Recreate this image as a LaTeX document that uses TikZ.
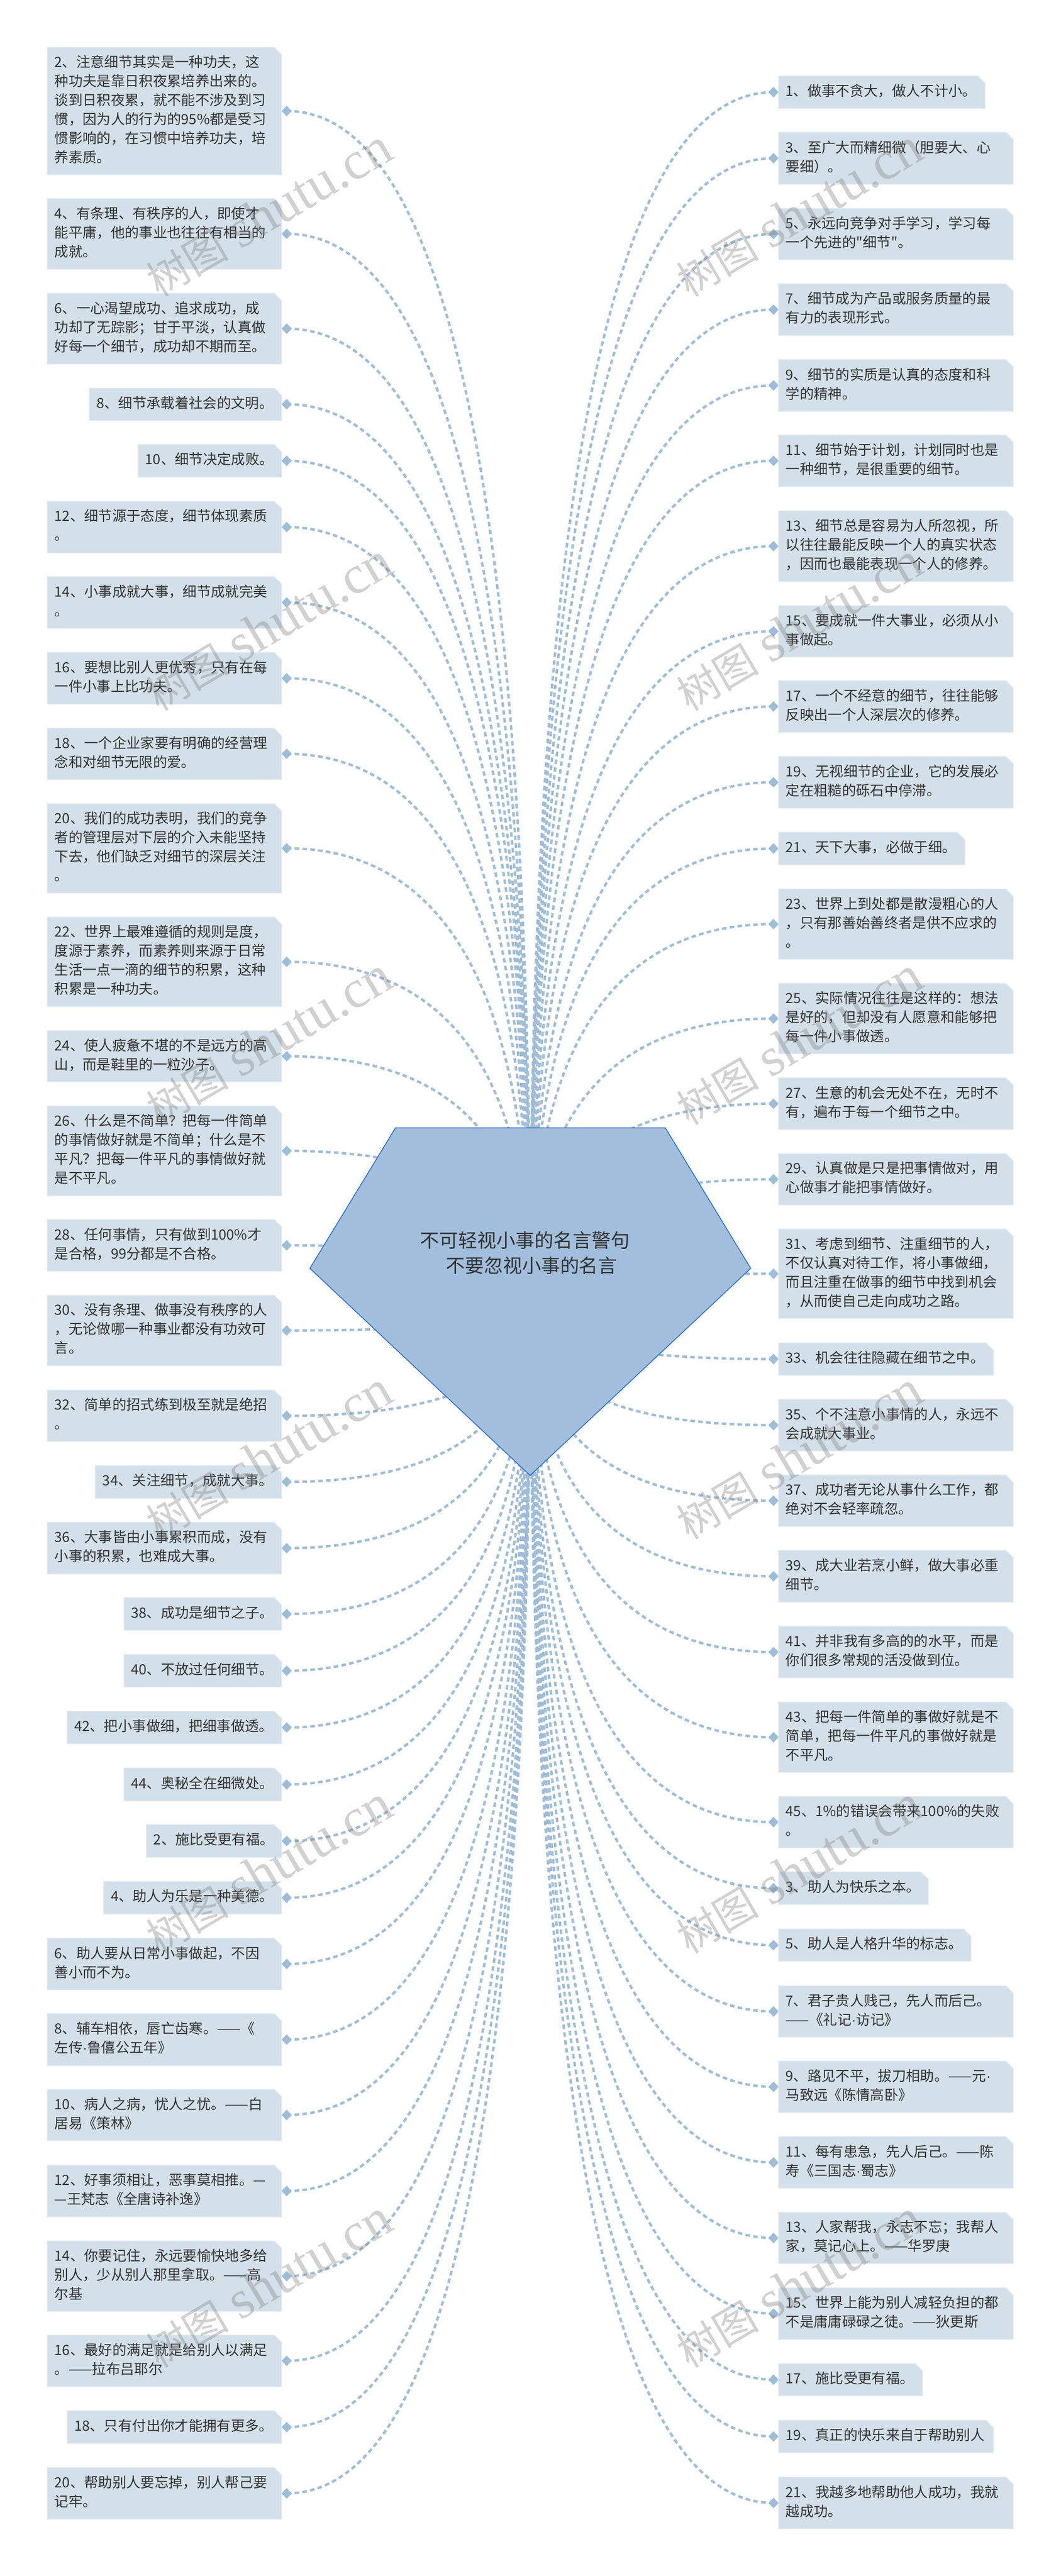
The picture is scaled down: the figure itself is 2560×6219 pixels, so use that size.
\documentclass[tikz,border=0pt]{standalone}
\usepackage{fontspec}
\usetikzlibrary{calc,shapes.geometric}
\newfontfamily\cjkmain{Noto Sans CJK SC}
\newfontfamily\wmlatin{Liberation Serif}
\newfontfamily\dotfont{Liberation Sans}
\newcommand\middot{{\dotfont ·}}
\definecolor{boxfill}{HTML}{D3E0E9}
\definecolor{boxedge}{HTML}{E6EDF2}
\definecolor{linkcol}{HTML}{9FBDD9}
\definecolor{diacol}{HTML}{9DBDDA}
\definecolor{hubfill}{HTML}{A1BFDC}
\definecolor{hubedge}{HTML}{2B6FD1}
\definecolor{inkcol}{HTML}{333333}
\setbox\strutbox=\hbox{\vrule height36pt depth10pt width0pt}
\tikzset{
  boxshape/.style={fill=boxfill,draw=boxedge,line width=2pt,line join=miter},
  boxtext/.style={inner sep=0pt,outer sep=0pt,anchor=west,align=left,text=inkcol,font=\cjkmain\fontsize{34pt}{46pt}\selectfont},
  dia/.style={diamond,fill=diacol,draw=none,inner sep=0pt,minimum width=24pt,minimum height=25pt,aspect=1},
  linkline/.style={draw=linkcol,line width=6pt,dash pattern=on 11pt off 8pt},
  hubshape/.style={fill=hubfill,draw=hubedge,line width=2pt,line join=miter},
  hubtext/.style={inner sep=0pt,outer sep=0pt,anchor=west,align=left,text=inkcol,font=\cjkmain\fontsize{46pt}{61pt}\selectfont},
  wmtext/.style={inner sep=0pt,text=gray,text opacity=.36,rotate=30.5},
}
% name, left x, right x, top, bottom, text
\newcommand\leftitem[6]{%
  \node[dia] (#1d) at (692,{(#4+#5)/2}) {};
  \draw[linkline] (#1d.center) .. controls ($(#1d.center)!2/3!(#1d.center-|hub)$) and ($(hub)!2/3!(#1d.center-|hub)$) .. (hub);
  \draw[boxshape] (#2,#4) -- ({#3-18},#4) -- (#3,{#4+18}) -- (#3,#5) -- (#2,#5) -- cycle;
  \node[dia] at (#1d) {};
  \node[boxtext] (#1) at ({#2+17.5},{(#4+#5)/2}) {\strut #6\strut};
}
\newcommand\rightitem[6]{%
  \node[dia] (#1d) at (1867,{(#4+#5)/2}) {};
  \draw[linkline] (#1d.center) .. controls ($(#1d.center)!2/3!(#1d.center-|hub)$) and ($(hub)!2/3!(#1d.center-|hub)$) .. (hub);
  \draw[boxshape] (#2,#4) -- ({#3-18},#4) -- (#3,{#4+18}) -- (#3,#5) -- (#2,#5) -- cycle;
  \node[dia] at (#1d) {};
  \node[boxtext] (#1) at ({#2+17.5},{(#4+#5)/2}) {\strut #6\strut};
}
\begin{document}
\begin{tikzpicture}[x=1pt,y=-1pt]
\useasboundingbox (0,0) rectangle (2560,6219);
\fill[white] (0,0) rectangle (2560,6219);
\coordinate (hub) at (1280,3142.5);
% left column
\leftitem{la}{114}{680}{114}{422}{2、注意细节其实是一种功夫，这\\种功夫是靠日积夜累培养出来的。\\谈到日积夜累，就不能不涉及到习\\惯，因为人的行为的95\%都是受习\\惯影响的，在习惯中培养功夫，培\\养素质。}
\leftitem{lb}{114}{680}{479}{650}{4、有条理、有秩序的人，即使才\\能平庸，他的事业也往往有相当的\\成就。}
\leftitem{lc}{114}{680}{708}{879}{6、一心渴望成功、追求成功，成\\功却了无踪影；甘于平淡，认真做\\好每一个细节，成功却不期而至。}
\leftitem{ld}{215.5}{680}{937}{1015}{8、细节承载着社会的文明。}
\leftitem{le}{333}{680}{1073}{1152}{10、细节决定成败。}
\leftitem{lf}{114}{680}{1210}{1335}{12、细节源于态度，细节体现素质\\。}
\leftitem{lg}{114}{680}{1392}{1517}{14、小事成就大事，细节成就完美\\。}
\leftitem{lh}{114}{680}{1575}{1700}{16、要想比别人更优秀，只有在每\\一件小事上比功夫。}
\leftitem{li}{114}{680}{1758}{1882}{18、一个企业家要有明确的经营理\\念和对细节无限的爱。}
\leftitem{lj}{114}{680}{1940}{2156}{20、我们的成功表明，我们的竞争\\者的管理层对下层的介入未能坚持\\下去，他们缺乏对细节的深层关注\\。}
\leftitem{lk}{114}{680}{2214}{2430}{22、世界上最难遵循的规则是度，\\度源于素养，而素养则来源于日常\\生活一点一滴的细节的积累，这种\\积累是一种功夫。}
\leftitem{ll}{114}{680}{2488}{2612}{24、使人疲惫不堪的不是远方的高\\山，而是鞋里的一粒沙子。}
\leftitem{lm}{114}{680}{2670}{2887}{26、什么是不简单？把每一件简单\\的事情做好就是不简单；什么是不\\平凡？把每一件平凡的事情做好就\\是不平凡。}
\leftitem{ln}{114}{680}{2944}{3069}{28、任何事情，只有做到100\%才\\是合格，99分都是不合格。}
\leftitem{lo}{114}{680}{3127}{3297}{30、没有条理、做事没有秩序的人\\，无论做哪一种事业都没有功效可\\言。}
\leftitem{lp}{114}{680}{3356}{3480}{32、简单的招式练到极至就是绝招\\。}
\leftitem{lq}{230}{680}{3538}{3617}{34、关注细节，成就大事。}
\leftitem{lr}{114}{680}{3675}{3800}{36、大事皆由小事累积而成，没有\\小事的积累，也难成大事。}
\leftitem{ls}{299}{680}{3857}{3936}{38、成功是细节之子。}
\leftitem{lt}{299}{680}{3994}{4073}{40、不放过任何细节。}
\leftitem{lu}{162}{680}{4131}{4210}{42、把小事做细，把细事做透。}
\leftitem{lv}{299}{680}{4268}{4348}{44、奥秘全在细微处。}
\leftitem{lw}{353}{680}{4405}{4484}{2、施比受更有福。}
\leftitem{lx}{250}{680}{4542}{4621}{4、助人为乐是一种美德。}
\leftitem{ly}{114}{680}{4679}{4804}{6、助人要从日常小事做起，不因\\善小而不为。}
\leftitem{lz}{114}{680}{4861}{4987}{8、辅车相依，唇亡齿寒。——《\\左传\middot 鲁僖公五年》}
\leftitem{maa}{114}{680}{5044}{5168}{10、病人之病，忧人之忧。——白\\居易《策林》}
\leftitem{mab}{114}{680}{5227}{5352}{12、好事须相让，恶事莫相推。—\\—王梵志《全唐诗补逸》}
\leftitem{mac}{114}{680}{5410}{5580}{14、你要记住，永远要愉快地多给\\别人，少从别人那里拿取。——高\\尔基}
\leftitem{mad}{114}{680}{5637}{5762}{16、最好的满足就是给别人以满足\\。——拉布吕耶尔}
\leftitem{mae}{162}{680}{5820}{5899}{18、只有付出你才能拥有更多。}
\leftitem{maf}{114}{680}{5957}{6082}{20、帮助别人要忘掉，别人帮己要\\记牢。}
% right column
\rightitem{ra}{1879}{2378}{183}{262}{1、做事不贪大，做人不计小。}
\rightitem{rb}{1879}{2446}{319}{445}{3、至广大而精细微（胆要大、心\\要细）。}
\rightitem{rc}{1879}{2446}{503}{627}{5、永远向竞争对手学习，学习每\\一个先进的"细节"。}
\rightitem{rd}{1879}{2446}{685}{810}{7、细节成为产品或服务质量的最\\有力的表现形式。}
\rightitem{re}{1879}{2446}{868}{993}{9、细节的实质是认真的态度和科\\学的精神。}
\rightitem{rf}{1879}{2446}{1050}{1175}{11、细节始于计划，计划同时也是\\一种细节，是很重要的细节。}
\rightitem{rg}{1879}{2446}{1233}{1404}{13、细节总是容易为人所忽视，所\\以往往最能反映一个人的真实状态\\，因而也最能表现一个人的修养。}
\rightitem{rh}{1879}{2446}{1462}{1586}{15、要成就一件大事业，必须从小\\事做起。}
\rightitem{ri}{1879}{2446}{1643}{1768}{17、一个不经意的细节，往往能够\\反映出一个人深层次的修养。}
\rightitem{rj}{1879}{2446}{1826}{1951}{19、无视细节的企业，它的发展必\\定在粗糙的砾石中停滞。}
\rightitem{rk}{1879}{2329}{2009}{2088}{21、天下大事，必做于细。}
\rightitem{rl}{1879}{2446}{2146}{2316}{23、世界上到处都是散漫粗心的人\\，只有那善始善终者是供不应求的\\。}
\rightitem{rm}{1879}{2446}{2374}{2544}{25、实际情况往往是这样的：想法\\是好的，但却没有人愿意和能够把\\每一件小事做透。}
\rightitem{rn}{1879}{2446}{2602}{2727}{27、生意的机会无处不在，无时不\\有，遍布于每一个细节之中。}
\rightitem{ro}{1879}{2446}{2785}{2909}{29、认真做是只是把事情做对，用\\心做事才能把事情做好。}
\rightitem{rp}{1879}{2446}{2967}{3183}{31、考虑到细节、注重细节的人，\\不仅认真对待工作，将小事做细，\\而且注重在做事的细节中找到机会\\，从而使自己走向成功之路。}
\rightitem{rq}{1879}{2398}{3242}{3320}{33、机会往往隐藏在细节之中。}
\rightitem{rr}{1879}{2446}{3378}{3503}{35、个不注意小事情的人，永远不\\会成就大事业。}
\rightitem{rs}{1879}{2446}{3561}{3685}{37、成功者无论从事什么工作，都\\绝对不会轻率疏忽。}
\rightitem{rt}{1879}{2446}{3743}{3868}{39、成大业若烹小鲜，做大事必重\\细节。}
\rightitem{ru}{1879}{2446}{3926}{4051}{41、并非我有多高的的水平，而是\\你们很多常规的活没做到位。}
\rightitem{rv}{1879}{2446}{4109}{4279}{43、把每一件简单的事做好就是不\\简单，把每一件平凡的事做好就是\\不平凡。}
\rightitem{rw}{1879}{2446}{4337}{4461}{45、1\%的错误会带来100\%的失败\\。}
\rightitem{rx}{1879}{2241}{4519}{4598}{3、助人为快乐之本。}
\rightitem{ry}{1879}{2344}{4657}{4735}{5、助人是人格升华的标志。}
\rightitem{rz}{1879}{2446}{4794}{4918}{7、君子贵人贱己，先人而后己。\\——《礼记\middot 访记》}
\rightitem{saa}{1879}{2446}{4976}{5100}{9、路见不平，拔刀相助。——元\middot\\马致远《陈情高卧》}
\rightitem{sab}{1879}{2446}{5158}{5283}{11、每有患急，先人后己。——陈\\寿《三国志\middot 蜀志》}
\rightitem{sac}{1879}{2446}{5341}{5465}{13、人家帮我，永志不忘；我帮人\\家，莫记心上。——华罗庚}
\rightitem{sad}{1879}{2446}{5523}{5648}{15、世界上能为别人减轻负担的都\\不是庸庸碌碌之徒。——狄更斯}
\rightitem{sae}{1879}{2227}{5706}{5784}{17、施比受更有福。}
\rightitem{saf}{1879}{2398}{5843}{5921}{19、真正的快乐来自于帮助别人}
\rightitem{sag}{1879}{2446}{5980}{6105}{21、我越多地帮助他人成功，我就\\越成功。}
% centre
\draw[hubshape] (954.5,2723) -- (1606,2723) -- (1812,3062) -- (1279.5,3562) -- (748,3062) -- cycle;
\node[hubtext] (title) at (1014,3024.5) {\vrule height48pt depth0pt width0pt 不可轻视小事的名言警句\\\hspace*{62pt}不要忽视小事的名言\vrule height0pt depth13pt width0pt};
% watermarks
\foreach \r in {0,...,5}{
  \foreach \c in {0,1}{
    \node[wmtext] (wm\r\c) at ({649+1280*\c},{514+1000*\r}) {\cjkmain\fontsize{100pt}{110pt}\selectfont 树图\hspace{28pt}{\wmlatin\fontsize{130pt}{140pt}\selectfont shutu.cn}};
  }
}
\end{tikzpicture}
\end{document}
